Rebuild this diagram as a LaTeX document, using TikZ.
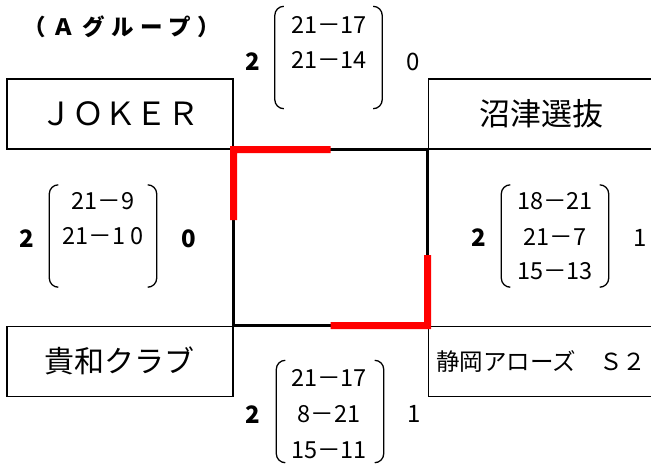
\documentclass[tikz,border=0pt]{standalone}
\usepackage{fontspec}
\setmainfont{Noto Sans CJK JP}
\usetikzlibrary{positioning,calc}
\definecolor{mywinred}{RGB}{255,0,0}
\newcommand{\fs}[1]{\fontsize{#1}{#1}\selectfont}
\newcommand{\widthteam}{226pt}
\newcommand{\heightteam}{70pt}
\newcommand{\gapx}{194pt}
\newcommand{\gapy}{176pt}
\tikzset{
    common/.style={inner sep=0pt},
    team/.style={draw, rectangle, line width=1.2pt, minimum width=\widthteam, minimum height=\heightteam},
    sets/.style={common, minimum width=107pt, minimum height=102pt},
    setrow/.style={common, font=\fs{23.5}},
    total/.style={common, font=\fs{24}},
    winner/.style={common, font=\fs{24}\bfseries},
    court/.style={line width=2.6pt},
    win/.style={mywinred, line width=7pt},
    paren/.style={line width=1.3pt, rounded corners=9pt}
}
\newcommand{\parens}[1]{%
    \draw[paren] ([xshift=9pt]#1.north west) -- (#1.north west) -- (#1.south west) -- ([xshift=9pt]#1.south west);
    \draw[paren] ([xshift=-9pt]#1.north east) -- (#1.north east) -- (#1.south east) -- ([xshift=-9pt]#1.south east);
}
\begin{document}
\begin{tikzpicture}[x=1pt, y=-1pt]
    \useasboundingbox (0,0) rectangle (651,464);
    \node[font={\fs{22.5}\bfseries\addfontfeatures{LetterSpace=30}}] (title) at (122,27) {（Ａグループ）};

    % teams
    \node[team, font=\fs{32}] (joker) at (120,114) {ＪＯＫＥＲ};
    \node[team, font=\fs{31}, right=\gapx of joker] (numazu) {沼津選抜};
    \node[team, font=\fs{30}, below=\gapy of joker] (kiwa) {貴和クラブ};
    \node[team, font=\fs{23.5}, right=\gapx of kiwa] (shizuoka) {静岡アローズ　Ｓ２};

    % court
    \draw[court] (joker.south east) -- (numazu.south west) -- (shizuoka.north west) -- (kiwa.north east) -- cycle;
    \draw[win] ($(joker.south east)!0.5!(numazu.south west)$) -- (joker.south east) -- ($(joker.south east)!0.4!(kiwa.north east)$);
    \draw[win] ($(shizuoka.north west)!0.4!(numazu.south west)$) -- (shizuoka.north west) -- ($(shizuoka.north west)!0.5!(kiwa.north east)$);

    % JOKER - numazu
    \node[sets] (setsTop) at (328.5,57.5) {};
    \parens{setsTop}
    \node[setrow] (top1) at (329,25) {21－17};
    \node[setrow] (top2) at (329,60) {21－14};
    \node[winner] (topA) at (252.5,62) {2};
    \node[total] (topB) at (413,62) {0};

    % JOKER - kiwa
    \node[sets] (setsLeft) at (103,236) {};
    \parens{setsLeft}
    \node[setrow] (left1) at (103,201) {21－9};
    \node[setrow] (left2) at (103,236) {21－1 0};
    \node[winner] (leftA) at (26.5,239) {2};
    \node[winner] (leftB) at (188.5,239) {0};

    % numazu - shizuoka
    \node[sets] (setsRight) at (555,236) {};
    \parens{setsRight}
    \node[setrow] (right1) at (555,201) {18－21};
    \node[setrow] (right2) at (555,237) {21－7};
    \node[setrow] (right3) at (555,271) {15－13};
    \node[winner] (rightA) at (479,238) {2};
    \node[total] (rightB) at (640,238) {1};

    % kiwa - shizuoka
    \node[sets] (setsBottom) at (330,411.5) {};
    \parens{setsBottom}
    \node[setrow] (bottom1) at (329,378) {21－17};
    \node[setrow] (bottom2) at (329,414) {8－21};
    \node[setrow] (bottom3) at (329,450) {15－11};
    \node[winner] (bottomA) at (252.5,415) {2};
    \node[total] (bottomB) at (414,414) {1};
\end{tikzpicture}
\end{document}
